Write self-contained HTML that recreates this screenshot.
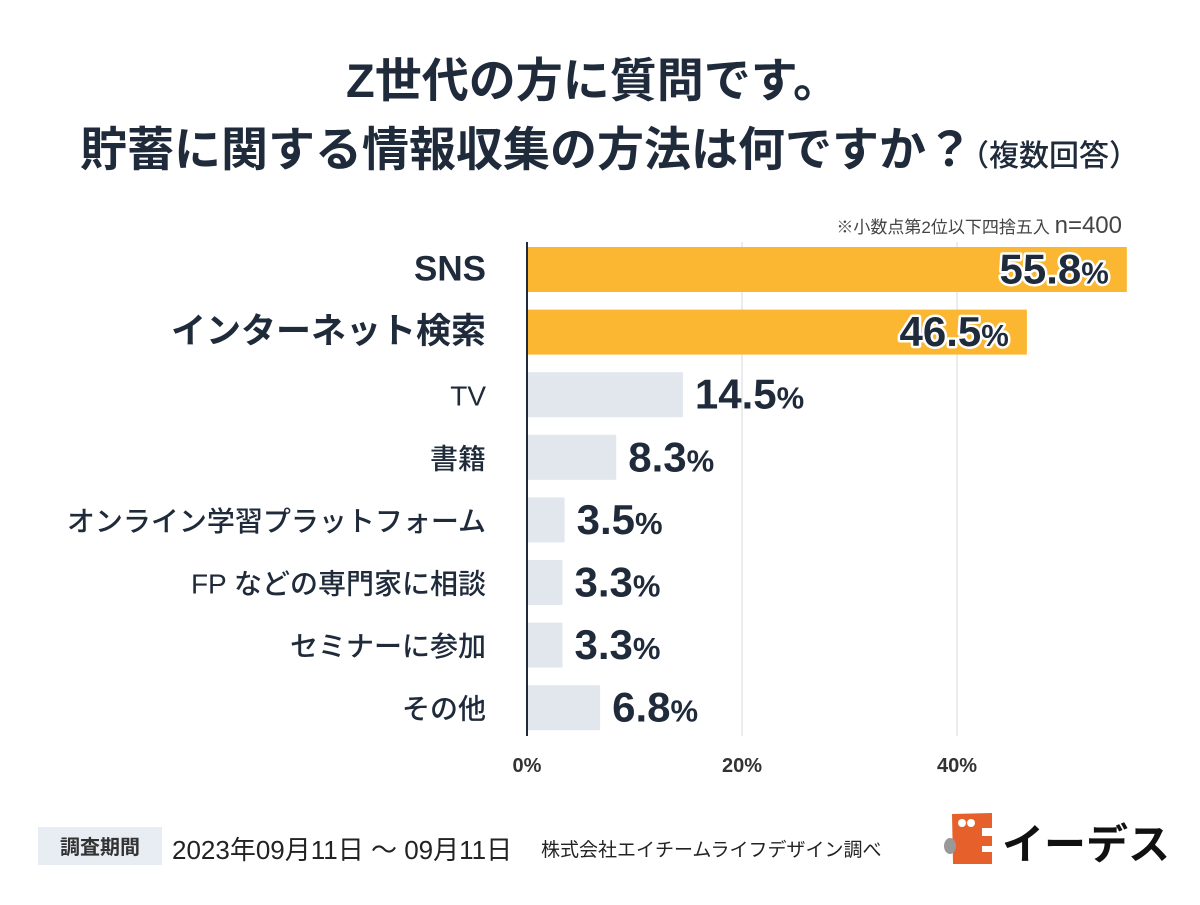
<!DOCTYPE html>
<html><head><meta charset="utf-8"><style>
body{margin:0;width:1200px;height:900px;background:#fff;overflow:hidden;font-family:"Liberation Sans","Noto Sans CJK JP",sans-serif;}
svg text{font-family:"Liberation Sans","Noto Sans CJK JP",sans-serif;}
</style></head><body>
<svg id="chart" width="1200" height="900">
<text x="593" y="97" text-anchor="middle" font-size="47" font-weight="700" fill="#1f2a3a">Z世代の方に質問です。</text>
<text x="80" y="166" font-size="47" font-weight="700" fill="#1f2a3a">貯蓄に関する情報収集の方法は何ですか？<tspan font-size="30" font-weight="500" dx="-14">（複数回答）</tspan></text>
<text x="1122" y="233" text-anchor="end" font-size="17" fill="#444">※小数点第2位以下四捨五入 <tspan font-size="24">n=400</tspan></text>
<g id="grid"></g><g id="bars"></g>
<line x1="527" y1="242" x2="527" y2="736" stroke="#1f2a3a" stroke-width="2"/>
<rect x="38" y="827" width="124" height="38" fill="#e7edf3"/>
<text x="100" y="854" text-anchor="middle" font-size="20" font-weight="700" fill="#333">調査期間</text>
<text x="172" y="859" font-size="26" fill="#222">2023年09月11日 〜 09月11日</text>
<text x="541" y="856" font-size="19" fill="#222">株式会社エイチームライフデザイン調べ</text>
<g>
<path d="M952 814 L992 813 L992 828 L982 828 L982 836 L992 836 L992 846 L982 846 L982 852 L992 852 L992 864 L953 864 Z" fill="#e5602a"/>
<circle cx="962" cy="823" r="4" fill="#fff"/><circle cx="971" cy="823" r="4" fill="#fff"/>
<ellipse cx="950" cy="846" rx="6" ry="8" fill="#999"/>
<text x="1002" y="859" font-size="42" font-weight="700" fill="#111">イーデス</text>
</g>
</svg>
<script>
const categories=["SNS","インターネット検索","TV","書籍","オンライン学習プラットフォーム","FP などの専門家に相談","セミナーに参加","その他"];
const values=[55.8,46.5,14.5,8.3,3.5,3.3,3.3,6.8];
const highlight=[true,true,false,false,false,false,false,false];
const ticks=[0,20,40];
const NS="http://www.w3.org/2000/svg";
const x0=527,pxPer=10.75,y0=247,pitch=62.6,bh=45;
const xs=v=>x0+v*pxPer, ys=i=>y0+i*pitch;
function mk(t,a,p){const e=document.createElementNS(NS,t);for(const k in a)e.setAttribute(k,a[k]);p.appendChild(e);return e;}
const grid=document.getElementById('grid'),bars=document.getElementById('bars'),svg=document.getElementById('chart');
ticks.forEach(t=>{
 if(t>0){const l=mk('line',{x1:xs(t),x2:xs(t),y1:242,y2:736,stroke:'#d5d9de','stroke-width':1},grid);
 
 }
 const tx=mk('text',{x:xs(t),y:772,'text-anchor':'middle','font-size':20,'font-weight':700,fill:'#333'},svg);
 tx.textContent=t+'%';
 
 
});
values.forEach((v,i)=>{
 const y=ys(i),hi=highlight[i];
 const r=mk('rect',{x:x0,y:y,width:xs(v)-x0,height:bh,fill:hi?'#fbb731':'#e2e7ee'},bars);
 
 
 const lb=mk('text',{x:486,y:y+bh/2+11,'text-anchor':'end','font-size':hi?35:28,'font-weight':hi?700:500,fill:'#1f2a3a'},svg);
 lb.textContent=categories[i];
 
 
 const vt=mk('text',{x:hi?xs(v)-18:xs(v)+12,y:y+bh/2+14,'text-anchor':hi?'end':'start','font-size':42,'font-weight':700,fill:'#1f2a3a',stroke:hi?'#fff':'none','stroke-width':hi?5:0,'paint-order':'stroke','stroke-linejoin':'round'},svg);
 vt.innerHTML=v.toFixed(1)+'<tspan font-size="31">%</tspan>';
 
 
});
</script>
</body></html>
